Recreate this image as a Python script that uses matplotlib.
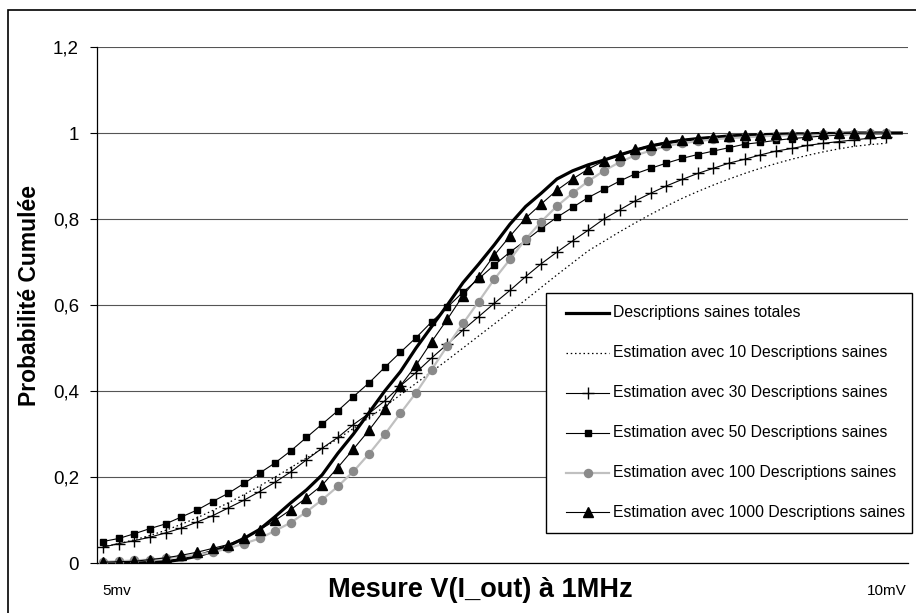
import matplotlib
matplotlib.use("Agg")
import matplotlib.pyplot as plt
from matplotlib.lines import Line2D
from matplotlib.patches import Rectangle

plt.rcParams['font.family'] = ['Liberation Sans', 'DejaVu Sans']

# ---- data (cumulative probabilities per measurement category) ----
total = [0.000, 0.000, 0.000, 0.001, 0.003, 0.008, 0.016, 0.027, 0.040, 0.057,
         0.078, 0.108, 0.140, 0.170, 0.205, 0.255, 0.300, 0.350, 0.400, 0.445,
         0.500, 0.550, 0.600, 0.652, 0.695, 0.740, 0.788, 0.829, 0.860, 0.893,
         0.912, 0.926, 0.937, 0.949, 0.960, 0.970, 0.977, 0.983, 0.987, 0.990,
         0.993, 0.995, 0.996, 0.997, 0.998, 0.998, 0.999, 0.999, 1.000, 1.000,
         1.000, 1.000]
est10 = [0.038, 0.045, 0.054, 0.064, 0.076, 0.090, 0.105, 0.122, 0.140, 0.159,
         0.179, 0.200, 0.222, 0.244, 0.266, 0.289, 0.313, 0.338, 0.364, 0.391,
         0.418, 0.445, 0.472, 0.500, 0.528, 0.556, 0.584, 0.612, 0.641, 0.670,
         0.698, 0.726, 0.748, 0.770, 0.791, 0.811, 0.830, 0.848, 0.864, 0.879,
         0.893, 0.906, 0.918, 0.929, 0.939, 0.948, 0.956, 0.963, 0.969, 0.973,
         0.976]
est30 = [0.037, 0.045, 0.052, 0.060, 0.070, 0.081, 0.095, 0.110, 0.128, 0.146,
         0.166, 0.188, 0.212, 0.240, 0.267, 0.292, 0.322, 0.348, 0.377, 0.412,
         0.443, 0.477, 0.509, 0.542, 0.573, 0.604, 0.634, 0.666, 0.696, 0.723,
         0.749, 0.774, 0.800, 0.821, 0.842, 0.860, 0.877, 0.892, 0.906, 0.918,
         0.930, 0.939, 0.949, 0.958, 0.964, 0.971, 0.976, 0.980, 0.984, 0.988,
         0.991]
est50 = [0.050, 0.057, 0.068, 0.080, 0.091, 0.107, 0.123, 0.143, 0.162, 0.185,
         0.209, 0.233, 0.261, 0.292, 0.323, 0.354, 0.387, 0.419, 0.455, 0.490,
         0.524, 0.561, 0.595, 0.630, 0.661, 0.693, 0.723, 0.750, 0.778, 0.804,
         0.827, 0.850, 0.869, 0.888, 0.905, 0.918, 0.930, 0.941, 0.950, 0.958,
         0.966, 0.974, 0.978, 0.983, 0.987, 0.990, 0.993, 0.995, 0.997, 0.998,
         0.999]
est100 = [0.003, 0.004, 0.006, 0.008, 0.011, 0.015, 0.019, 0.025, 0.034, 0.045,
          0.057, 0.075, 0.094, 0.119, 0.147, 0.178, 0.213, 0.254, 0.299, 0.348,
          0.396, 0.450, 0.505, 0.557, 0.608, 0.660, 0.706, 0.753, 0.794, 0.830,
          0.860, 0.888, 0.912, 0.932, 0.948, 0.959, 0.970, 0.976, 0.981, 0.985,
          0.988, 0.990, 0.992, 0.994, 0.995, 0.996, 0.997, 0.998, 0.998, 0.999,
          0.999]
est1000 = [0.002, 0.003, 0.004, 0.008, 0.012, 0.018, 0.025, 0.034, 0.043, 0.058,
           0.077, 0.099, 0.124, 0.152, 0.181, 0.222, 0.265, 0.309, 0.357, 0.412,
           0.460, 0.515, 0.567, 0.622, 0.666, 0.716, 0.760, 0.802, 0.835, 0.867,
           0.893, 0.916, 0.935, 0.949, 0.962, 0.971, 0.979, 0.984, 0.988, 0.991,
           0.993, 0.995, 0.996, 0.997, 0.998, 0.998, 0.999, 0.999, 0.999, 1.000,
           1.000]

labels = ["Descriptions saines totales",
          "Estimation avec 10 Descriptions saines",
          "Estimation avec 30 Descriptions saines",
          "Estimation avec 50 Descriptions saines",
          "Estimation avec 100 Descriptions saines",
          "Estimation avec 1000 Descriptions saines"]
yticks = [0, 0.2, 0.4, 0.6, 0.8, 1.0, 1.2]
yticklabels = ["0", "0,2", "0,4", "0,6", "0,8", "1", "1,2"]
x_first_label = "5mv"
x_last_label = "10mV"
xlabel = "Mesure V(I_out) à 1MHz"
ylabel = "Probabilité Cumulée"

W, H = 916, 613
fig = plt.figure(figsize=(W / 100, H / 100), dpi=100)

def fx(px):
    return px / W

def fy(py):
    return 1 - py / H

ax = fig.add_axes([fx(97), fy(563), fx(908) - fx(97), fy(47) - fy(563)])

styles = [
    dict(color='black', lw=2.3, ls='-', marker=None),
    dict(color='black', lw=0.9, ls=(0, (1.2, 2.2)), marker=None),
    dict(color='black', lw=0.8, ls='-', marker='+', ms=9, mew=1.0, mfc='black', mec='black'),
    dict(color='black', lw=0.8, ls='-', marker='s', ms=4.4, mfc='black', mec='black'),
    dict(color='#c0c0c0', lw=1.6, ls='-', marker='o', ms=5.8, mfc='#8a8a8a', mec='#8a8a8a'),
    dict(color='black', lw=0.8, ls='-', marker='^', ms=6.8, mfc='black', mec='black'),
]
series = [total, est10, est30, est50, est100, est1000]

for s, st, lab in zip(series, styles, labels):
    xs = list(range(len(s)))
    ax.plot(xs, s, label=lab, zorder=3, **st)

ax.set_xlim(-0.385, 51.43)
ax.set_ylim(0, 1.2)
ax.set_yticks(yticks)
ax.set_yticklabels(yticklabels, fontsize=13.5)
ax.set_xticks([])
ax.yaxis.grid(True, color='#555555', lw=0.8)
ax.set_axisbelow(True)
for sp in ['top', 'right']:
    ax.spines[sp].set_visible(False)
ax.spines['left'].set_linewidth(0.9)
ax.spines['bottom'].set_linewidth(0.9)
ax.tick_params(axis='y', direction='out', length=5, width=0.8, pad=8)

# category labels and axis titles
fig.text(fx(102), fy(591), x_first_label, fontsize=11, ha='left', va='center')
fig.text(fx(907), fy(591), x_last_label, fontsize=11, ha='right', va='center')
fig.text(fx(480), fy(590), xlabel, fontsize=19.5, fontweight='bold', ha='center', va='center')
fig.text(fx(30), fy(296), ylabel, fontsize=16.5, fontweight='bold', ha='center', va='center',
         rotation=90)

# outer chart border
fig.add_artist(Rectangle((fx(8), -0.1), 1.2, fy(10) + 0.1, transform=fig.transFigure,
                         fill=False, ec='black', lw=1.2))

# legend (drawn manually in pixel layout)
fig.add_artist(Rectangle((fx(546), fy(533)), fx(912) - fx(546), fy(293) - fy(533),
                         transform=fig.transFigure, fc='white', ec='black', lw=1.0, zorder=5))
rows = [313, 353, 393, 433, 473, 512]
for r, st, lab in zip(rows, styles, labels):
    line_kw = {k: v for k, v in st.items() if k not in ('marker', 'ms', 'mew', 'mfc', 'mec')}
    fig.add_artist(Line2D([fx(566), fx(609)], [fy(r), fy(r)], transform=fig.transFigure,
                          zorder=6, **line_kw))
    if st.get('marker'):
        mk = {k: v for k, v in st.items() if k in ('marker', 'ms', 'mew', 'mfc', 'mec')}
        fig.add_artist(Line2D([fx(587.5)], [fy(r)], transform=fig.transFigure, ls='none',
                              zorder=7, **mk))
    fig.text(fx(613), fy(r), lab, fontsize=11.3, ha='left', va='center', zorder=7)

fig.savefig("out.png", dpi=100)
